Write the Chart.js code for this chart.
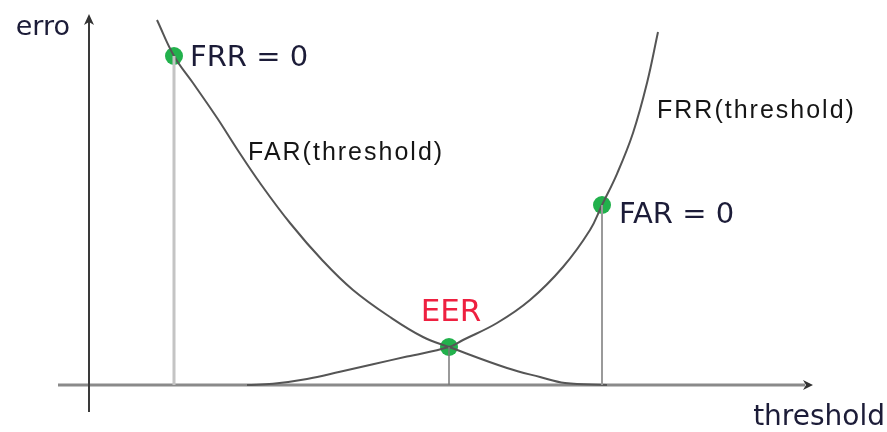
<!DOCTYPE html>
<html>
<head>
<meta charset="utf-8">
<script src="https://cdn.jsdelivr.net/npm/chart.js@4/dist/chart.umd.min.js"></script>
<style>
  body { margin: 0; background: #fff; }
  #wrap { width: 887px; height: 432px; }
</style>
</head>
<body>
<div id="wrap"><canvas id="chart1"></canvas></div>
<script>
// FAR curve (false acceptance rate)
var farThreshold = [1.70, 2.125, 2.6, 3.2, 3.7, 4.275, 5.025, 5.85, 6.6, 7.525, 8.35, 9.0, 10.45, 11.275, 11.9, 12.95];
var farError     = [9.125, 8.225, 7.55, 6.68, 5.9, 5.05, 4.05, 3.1, 2.375, 1.7, 1.2, 0.95, 0.425, 0.2, 0.05, 0];

// FRR curve (false rejection rate)
var frrThreshold = [3.95, 4.6, 5.45, 6.275, 7.1, 7.95, 9.0, 9.35, 10.2, 11.025, 11.85, 12.525, 12.825, 13.2, 13.6, 13.95, 14.225];
var frrError     = [0, 0.03, 0.15, 0.33, 0.52, 0.71, 0.95, 1.125, 1.55, 2.125, 2.95, 3.875, 4.5, 5.28, 6.3, 7.55, 8.825];

// marked points: FRR = 0, EER, FAR = 0
var markerNames     = ['FRR = 0', 'EER', 'FAR = 0'];
var markerThreshold = [2.125, 9.0, 12.825];
var markerError     = [8.225, 0.95, 4.5];

// axis extents
var xAxisRange = [-0.775, 18.0];
var yAxisRange = [-0.675, 9.175];

function toPoints(xs, ys) {
    var pts = [];
    for (i = 0; i < xs.length; i++) {
        pts.push({x: xs[i], y: ys[i]});
    }
    return pts;
}

function dropLine(i) {
    return [{x: markerThreshold[i], y: markerError[i]}, {x: markerThreshold[i], y: 0}];
}

// axes with arrow heads, drawn under the curves
var axesPlugin = {
    id: 'axes',
    beforeDatasetsDraw: function(chart) {
        var ctx = chart.ctx;
        var xs = chart.scales.x, ys = chart.scales.y;
        var x0 = xs.getPixelForValue(0), y0 = ys.getPixelForValue(0);
        var xa = xs.getPixelForValue(xAxisRange[0]), xb = xs.getPixelForValue(xAxisRange[1]);
        var ya = ys.getPixelForValue(yAxisRange[0]), yb = ys.getPixelForValue(yAxisRange[1]);
        ctx.save();
        // x axis
        ctx.strokeStyle = '#8a8a8a';
        ctx.lineWidth = 3;
        ctx.beginPath();
        ctx.moveTo(xa, y0);
        ctx.lineTo(xb - 4, y0);
        ctx.stroke();
        ctx.fillStyle = '#333';
        ctx.beginPath();
        ctx.moveTo(xb + 4, y0);
        ctx.lineTo(xb - 6, y0 - 5);
        ctx.lineTo(xb - 3, y0);
        ctx.lineTo(xb - 6, y0 + 5);
        ctx.closePath();
        ctx.fill();
        // y axis
        ctx.strokeStyle = '#3a3a3a';
        ctx.lineWidth = 2;
        ctx.beginPath();
        ctx.moveTo(x0, ya);
        ctx.lineTo(x0, yb + 4);
        ctx.stroke();
        ctx.beginPath();
        ctx.moveTo(x0, yb - 4);
        ctx.lineTo(x0 - 5, yb + 7);
        ctx.lineTo(x0, yb + 4);
        ctx.lineTo(x0 + 5, yb + 7);
        ctx.closePath();
        ctx.fill();
        ctx.restore();
    }
};

// text labels
var labelPlugin = {
    id: 'labels',
    afterDatasetsDraw: function(chart) {
        var ctx = chart.ctx;
        var xs = chart.scales.x, ys = chart.scales.y;
        var px = function(v) { return xs.getPixelForValue(v); };
        var py = function(v) { return ys.getPixelForValue(v); };
        ctx.save();
        ctx.textBaseline = 'alphabetic';

        // axis titles
        ctx.fillStyle = '#1c1c38';
        ctx.font = '27px "DejaVu Sans"';
        ctx.textAlign = 'right';
        ctx.fillText('erro', px(0) - 19, py(yAxisRange[1]) + 17);
        ctx.font = '28px "DejaVu Sans"';
        ctx.fillText('threshold', 885, py(0) + 40);

        // marker labels
        ctx.textAlign = 'left';
        ctx.font = '29px "DejaVu Sans"';
        ctx.fillStyle = '#1c1c38';
        ctx.fillText(markerNames[0], px(markerThreshold[0]) + 16, py(markerError[0]) + 10);
        ctx.fillText(markerNames[2], px(markerThreshold[2]) + 17, py(markerError[2]) + 18);
        ctx.textAlign = 'center';
        ctx.font = '31px "DejaVu Sans"';
        ctx.fillStyle = '#ee2040';
        ctx.fillText(markerNames[1], px(markerThreshold[1]) + 2, py(markerError[1]) - 26);

        // curve labels
        ctx.textAlign = 'left';
        ctx.fillStyle = '#151515';
        ctx.font = '25px "Liberation Sans"';
        ctx.letterSpacing = '2px';
        ctx.fillText('FAR(threshold)', px(3.975), py(5.625));
        ctx.fillText('FRR(threshold)', px(14.2), py(6.675));
        ctx.restore();
    }
};

const CHART1 = document.getElementById('chart1');
let errorChart = new Chart(CHART1, {
    type: 'line',
    data: {
        datasets: [
            {
                label: 'FRR = 0 drop',
                data: dropLine(0),
                borderColor: '#c4c4c4',
                borderWidth: 3,
                pointRadius: 0
            },
            {
                label: 'EER drop',
                data: dropLine(1),
                borderColor: '#7a7a7a',
                borderWidth: 1.5,
                pointRadius: 0
            },
            {
                label: 'FAR = 0 drop',
                data: dropLine(2),
                borderColor: '#9a9a9a',
                borderWidth: 2,
                pointRadius: 0
            },
            {
                label: 'FAR(threshold)',
                data: toPoints(farThreshold, farError),
                borderColor: '#555',
                borderWidth: 2,
                pointRadius: 0,
                tension: 0.4
            },
            {
                label: 'FRR(threshold)',
                data: toPoints(frrThreshold, frrError),
                borderColor: '#555',
                borderWidth: 2,
                pointRadius: 0,
                tension: 0.4
            },
            {
                label: 'markers',
                data: toPoints(markerThreshold, markerError),
                showLine: false,
                pointRadius: 9,
                pointBackgroundColor: '#22b14c',
                pointBorderWidth: 0
            }
        ]
    },
    options: {
        responsive: true,
        maintainAspectRatio: false,
        animation: false,
        layout: { padding: 0, autoPadding: false },
        plugins: { legend: { display: false }, tooltip: { enabled: false } },
        scales: {
            x: { type: 'linear', min: -2.225, max: 19.95, display: false },
            y: { type: 'linear', min: -1.175, max: 9.625, display: false }
        }
    },
    plugins: [axesPlugin, labelPlugin]
});
</script>
</body>
</html>
